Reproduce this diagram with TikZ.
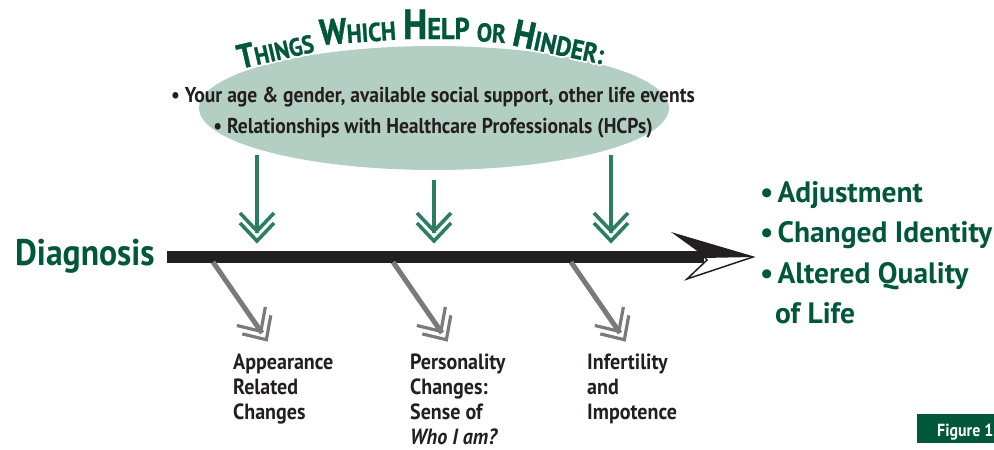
\documentclass[tikz,border=0pt]{standalone}
\usepackage{fontspec}
\setmainfont{PT Sans}[FakeStretch=0.91]
\newfontfamily\wideF{PT Sans}[FakeStretch=1.0]
\newfontfamily\titleF{PT Sans}[FakeStretch=0.88,BoldFeatures={FakeBold=1}]
\usepackage{contour}
\contourlength{1.6pt}
\contournumber{32}
\usetikzlibrary{shapes.geometric}
\definecolor{dkgreen}{HTML}{00573A}
\definecolor{ellgreen}{HTML}{B3CFC3}
\definecolor{arrgreen}{HTML}{2D7D61}
\definecolor{arrgray}{HTML}{7A7A7A}
\definecolor{barblack}{HTML}{231F20}
\newcommand\fs[1]{\fontsize{#1}{#1}\selectfont}
\newcommand\blt{•\hspace{4pt}}
\newcommand\dblchev[3]{%
  \begin{scope}[shift={(#1)},rotate=#2]
    \draw[#3] (-17,-20) -- (0,-2) -- (17,-20);
    \draw[#3] (-17,-10) -- (0,8) -- (17,-10);
  \end{scope}}
\begin{document}
\begin{tikzpicture}[x=1pt,y=-1pt,
  titlew/.style={anchor=base west,inner sep=0,text=dkgreen,font=\titleF\bfseries},
  ellt/.style={anchor=base,inner sep=0,text=barblack,font=\bfseries\fs{21.5}},
  labt/.style={anchor=base west,inner sep=0,text=barblack,font=\bfseries\fs{22}},
  rest/.style={anchor=base west,inner sep=0,text=dkgreen,font=\wideF\bfseries\fs{29.5}},
  gshaft/.style={draw=arrgreen,line width=4.5pt},
  gchev/.style={draw=arrgreen,line width=3.6pt,miter limit=4},
  yshaft/.style={draw=arrgray,line width=5pt},
  ychev/.style={draw=arrgray,line width=3.2pt,miter limit=4}]
\useasboundingbox (0,0) rectangle (994,450);
% ellipse
\node[ellipse,fill=ellgreen,minimum width=470pt,minimum height=124pt,inner sep=0] (ell) at (434,108) {};
% title
\node[titlew,rotate=13] (t1) at (240,69) {\contour{white}{\fs{34}T\fs{25}HINGS}};
\node[titlew,rotate=4] (t2) at (320,45) {\contour{white}{\fs{36}W\fs{26}HICH}};
\node[titlew,rotate=0] (t3) at (403,39) {\contour{white}{\fs{42}H\fs{30}ELP}};
\node[titlew,rotate=-4] (t4) at (476,41) {\contour{white}{\fs{26}OR}};
\node[titlew,rotate=-12] (t5) at (511,45) {\contour{white}{\fs{38}H\fs{27}INDER:}};
% ellipse text
\node[ellt] (l1) at (433,102) {• Your age \& gender, available social support, other life events};
\node[ellt] (l2) at (433,133) {• Relationships with Healthcare Professionals (HCPs)};
% main bar
\coordinate (bs) at (167,257);
\coordinate (be) at (704,257);
\draw[barblack,line width=12pt] (bs) -- (be);
\filldraw[fill=white,draw=barblack,line width=1.5pt,line join=miter] (675,234) -- (753,257) -- (687,279) -- (707,260) -- (700,252) -- cycle;
\fill[barblack] (675,234) -- (753,257) -- (703,258) -- (698,251) -- cycle;
% Diagnosis
\node[anchor=base west,inner sep=0,text=dkgreen,font=\bfseries\fs{37}] (diag) at (15,265) {Diagnosis};
% green arrows
\foreach \i/\x/\y in {1/257/155,2/434/180,3/611/155}{
  \coordinate (g\i s) at (\x,\y);
  \coordinate (g\i e) at (\x,233);
  \draw[gshaft] (g\i s) -- (g\i e);
  \dblchev{g\i e}{0}{gchev}
}
% gray arrows
\foreach \i/\x in {1/213,2/393,3/571}{
  \coordinate (h\i s) at (\x,262);
  \coordinate (h\i e) at (\x+49,333);
  \draw[yshaft] (h\i s) -- (h\i e);
  \dblchev{h\i e}{33}{ychev}
}
% bottom labels
\node[labt] (a1) at (233,369) {Appearance};
\node[labt] (a2) at (233,394) {Related};
\node[labt] (a3) at (233,419) {Changes};
\node[labt] (p1) at (410,369) {Personality};
\node[labt] (p2) at (410,394) {Changes:};
\node[labt] (p3) at (410,419) {Sense of};
\node[labt,font=\bfseries\itshape\fs{22}] (p4) at (410,444) {Who I am?};
\node[labt] (i1) at (587,369) {Infertility};
\node[labt] (i2) at (587,394) {and};
\node[labt] (i3) at (587,419) {Impotence};
% results
\node[rest] (r1) at (760,202) {\blt Adjustment};
\node[rest] (r2) at (760,242) {\blt Changed Identity};
\node[rest] (r3) at (760,283) {\blt Altered Quality};
\node[rest] (r4) at (775,323) {of Life};
% figure tag
\node[fill=dkgreen,anchor=north west,minimum width=90pt,minimum height=29pt,inner sep=0] (figbox) at (917,414) {};
\node[anchor=base west,inner sep=0,text=white,font=\bfseries\fs{17.5}] (figt) at (937,436) {Figure 1};
\end{tikzpicture}
\end{document}
